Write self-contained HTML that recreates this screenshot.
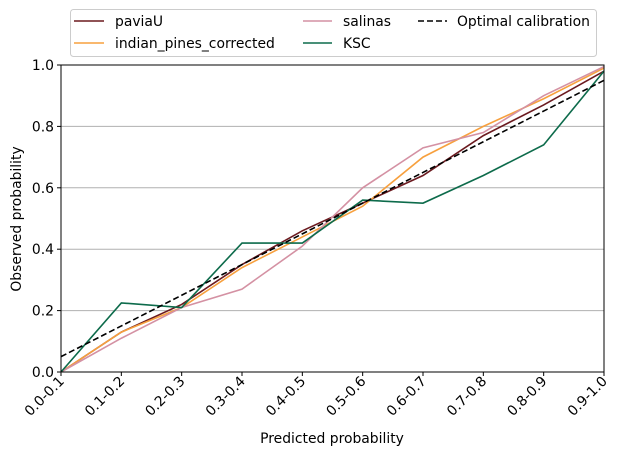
<!DOCTYPE html>
<html><head><meta charset="utf-8"><style>body{margin:0;background:#fff}svg{font-family:"DejaVu Sans","Liberation Sans",sans-serif}</style></head>
<body>
<svg id="c" width="617" height="456"></svg>
<script>
const categories=["0.0-0.1","0.1-0.2","0.2-0.3","0.3-0.4","0.4-0.5","0.5-0.6","0.6-0.7","0.7-0.8","0.8-0.9","0.9-1.0"];
const paviaU=[0,0.13,0.22,0.35,0.46,0.55,0.64,0.77,0.87,0.98];
const indianPines=[0,0.13,0.21,0.34,0.44,0.54,0.70,0.80,0.89,0.99];
const salinas=[0,0.11,0.21,0.27,0.41,0.60,0.73,0.78,0.90,0.995];
const ksc=[0,0.225,0.21,0.42,0.42,0.56,0.55,0.64,0.74,0.98];
const optimal=[0.05,0.15,0.25,0.35,0.45,0.55,0.65,0.75,0.85,0.95];
const yTicks=[0,0.2,0.4,0.6,0.8,1.0];
const yTickLabels=["0.0","0.2","0.4","0.6","0.8","1.0"];
const NS="http://www.w3.org/2000/svg",svg=document.getElementById('c');
const L=61,R=604,T=65,B=372,FS=13.9;
const x=i=>L+i*(R-L)/(categories.length-1);
const y=v=>B-v*(B-T);
function mk(t,a,p){const e=document.createElementNS(NS,t);for(const k in a)e.setAttribute(k,a[k]);(p||svg).appendChild(e);return e;}
yTicks.forEach((v,i)=>{
 if(v>0&&v<1){const g=mk('line',{x1:L,x2:R,y1:y(v),y2:y(v),stroke:'#b0b0b0','stroke-width':1});}
 mk('line',{x1:L-4,x2:L,y1:y(v),y2:y(v),stroke:'#000'});
 const t=mk('text',{x:L-7,y:y(v)+5,'text-anchor':'end','font-size':FS});t.textContent=yTickLabels[i];
 
 
});
categories.forEach((c,i)=>{
 mk('line',{x1:x(i),x2:x(i),y1:B,y2:B+4,stroke:'#000'});
 const t=mk('text',{x:x(i)+4,y:B+10,'text-anchor':'end','font-size':FS,transform:`rotate(-45 ${x(i)+4} ${B+10})`});t.textContent=c;
 
 
});
const series=[[paviaU,'#6b1a1f','',"paviaU"],[indianPines,'#f7a03e','',"indian-pines"],[salinas,'#d491a3','',"salinas"],[ksc,'#0d6b4b','',"ksc"],[optimal,'#000','6,3',"optimal"]];
series.forEach(s=>{
 const p=mk('polyline',{points:s[0].map((v,i)=>x(i)+','+y(v)).join(' '),fill:'none',stroke:s[1],'stroke-width':1.6,'stroke-dasharray':s[2]});
 
 
});
mk('rect',{x:L,y:T,width:R-L,height:B-T,fill:'none',stroke:'#000','stroke-width':1});
</script>
<svg width="617" height="456" style="position:absolute;left:0;top:0;font-size:13.9px">
<text x="332" y="443" text-anchor="middle">Predicted probability</text>
<text transform="translate(21 219) rotate(-90)" text-anchor="middle">Observed probability</text>
<g>
<rect x="70.5" y="9.5" width="526" height="47" rx="3" fill="#fff" stroke="#ccc"/>
<line x1="74" x2="104" y1="21" y2="21" stroke="#6b1a1f" stroke-width="1.6"/><text x="115" y="26">paviaU</text>
<line x1="74" x2="104" y1="43" y2="43" stroke="#f7a03e" stroke-width="1.6"/><text x="115" y="48">indian_pines_corrected</text>
<line x1="303" x2="332" y1="21" y2="21" stroke="#d491a3" stroke-width="1.6"/><text x="343" y="26">salinas</text>
<line x1="303" x2="332" y1="43" y2="43" stroke="#0d6b4b" stroke-width="1.6"/><text x="343" y="48">KSC</text>
<line x1="418" x2="447" y1="21" y2="21" stroke="#000" stroke-width="1.6" stroke-dasharray="6,3"/><text x="457" y="26">Optimal calibration</text>
</g>
</svg>
</body></html>
